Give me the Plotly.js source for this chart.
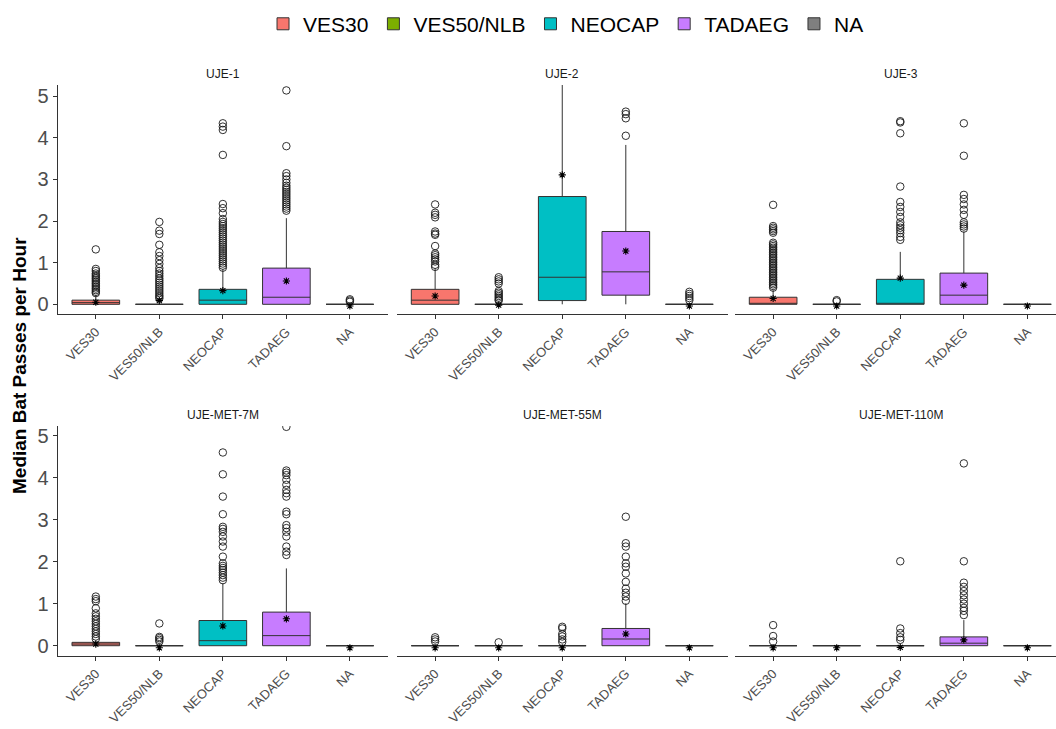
<!DOCTYPE html>
<html>
<head>
<meta charset="utf-8">
<script src="https://cdn.plot.ly/plotly-3.0.1.min.js"></script>
<style>html,body{margin:0;padding:0;background:#fff;}#chart{width:1056px;height:729px;}</style>
</head>
<body>
<div id="chart"></div>
<script>
// ---------- data ----------
const categories = ['VES30', 'VES50/NLB', 'NEOCAP', 'TADAEG', 'NA'];
const sites = ['UJE-1', 'UJE-2', 'UJE-3', 'UJE-MET-7M', 'UJE-MET-55M', 'UJE-MET-110M'];
const colors = ['#F8766D', '#7CAE00', '#00BFC4', '#C77CFF', '#7F7F7F'];

// per site: [VES30, VES50/NLB, NEOCAP, TADAEG, NA]
const q1Values = [
  [0, 0, 0, 0, 0],
  [0, 0, 0.09, 0.22, 0],
  [0, 0, 0, 0, 0],
  [0, 0, 0, 0, 0],
  [0, 0, 0, 0, 0],
  [0, 0, 0, 0, 0]
];
const medianValues = [
  [0.04, 0, 0.1, 0.17, 0],
  [0.1, 0, 0.65, 0.78, 0],
  [0.01, 0, 0, 0.22, 0],
  [0.04, 0, 0.12, 0.24, 0],
  [0, 0, 0, 0.16, 0],
  [0, 0, 0, 0.06, 0]
];
const q3Values = [
  [0.1, 0, 0.36, 0.87, 0],
  [0.36, 0, 2.59, 1.75, 0],
  [0.17, 0, 0.6, 0.75, 0],
  [0.08, 0, 0.6, 0.8, 0],
  [0, 0, 0, 0.41, 0],
  [0, 0, 0, 0.21, 0]
];
const lowerWhisker = [
  [0, 0, 0, 0, 0],
  [0, 0, 0, 0, 0],
  [0, 0, 0, 0, 0],
  [0, 0, 0, 0, 0],
  [0, 0, 0, 0, 0],
  [0, 0, 0, 0, 0]
];
const upperWhisker = [
  [0.22, 0, 0.85, 2.07, 0],
  [0.87, 0, 5.6, 3.83, 0],
  [0.34, 0, 1.26, 1.75, 0],
  [0.12, 0, 1.49, 1.84, 0],
  [0, 0, 0, 1.01, 0],
  [0, 0, 0, 0.61, 0]
];
const meanValues = [
  [0.05, 0.09, 0.33, 0.56, -0.04],
  [0.2, -0.02, 3.11, 1.28, -0.04],
  [0.14, -0.04, 0.63, 0.46, -0.04],
  [0.04, -0.05, 0.47, 0.64, -0.05],
  [-0.05, -0.05, -0.05, 0.28, -0.05],
  [-0.05, -0.05, -0.04, 0.14, -0.05]
];

const outliersUJE1 = [
  [1.32, 0.85, 0.8, 0.74, 0.7, 0.66, 0.62, 0.58, 0.54, 0.5, 0.46, 0.42, 0.38, 0.34, 0.3, 0.27],
  [1.98, 1.77, 1.69, 1.43, 1.25, 1.16, 1.06, 0.97, 0.87, 0.8, 0.74, 0.68, 0.62, 0.57, 0.52, 0.47, 0.42, 0.37, 0.32, 0.27, 0.22, 0.18, 0.14],
  [4.35, 4.27, 4.19, 3.59, 2.41, 2.31, 2.19, 2.05, 1.98, 1.93, 1.88, 1.83, 1.78, 1.73, 1.68, 1.63, 1.58, 1.53, 1.48, 1.43, 1.38, 1.33, 1.28, 1.23, 1.18, 1.13, 1.08, 1.03, 0.98, 0.93, 0.88],
  [5.14, 3.8, 3.15, 3.08, 3.0, 2.92, 2.85, 2.8, 2.75, 2.7, 2.65, 2.6, 2.55, 2.5, 2.45, 2.4, 2.35, 2.3, 2.25],
  [0.12, 0.09, 0.06]
];
const outliersUJE2 = [
  [2.4, 2.2, 2.15, 2.09, 1.75, 1.7, 1.67, 1.4, 1.22, 1.18, 1.13, 1.08, 1.03, 0.95, 0.9],
  [0.65, 0.6, 0.55, 0.5, 0.32, 0.28, 0.24, 0.2, 0.16, 0.12, 0.09],
  [],
  [4.63, 4.57, 4.47, 4.05],
  [0.3, 0.25, 0.2, 0.15, 0.1]
];
const outliersUJE3 = [
  [2.39, 1.88, 1.84, 1.8, 1.76, 1.72, 1.48, 1.44, 1.4, 1.36, 1.32, 1.28, 1.24, 1.2, 1.16, 1.12, 1.08, 1.04, 1.0, 0.96, 0.92, 0.88, 0.84, 0.8, 0.76, 0.72, 0.68, 0.64, 0.6, 0.56, 0.52, 0.48, 0.44, 0.4],
  [0.1, 0.07],
  [4.4, 4.37, 4.11, 2.83, 2.46, 2.34, 2.22, 2.1, 1.97, 1.9, 1.84, 1.78, 1.71, 1.62, 1.55],
  [4.35, 3.57, 2.63, 2.53, 2.4, 2.27, 2.15, 1.97, 1.92, 1.87, 1.82],
  []
];
const outliersMET7 = [
  [1.17, 1.11, 1.06, 0.89, 0.77, 0.7, 0.64, 0.58, 0.52, 0.46, 0.4, 0.34, 0.28, 0.22, 0.16],
  [0.53, 0.21, 0.18, 0.14, 0.1],
  [4.6, 4.08, 3.55, 3.13, 2.83, 2.78, 2.71, 2.6, 2.48, 2.36, 2.12, 1.96, 1.9, 1.85, 1.8, 1.74, 1.68, 1.62, 1.56],
  [5.21, 4.17, 4.12, 4.06, 3.95, 3.83, 3.71, 3.63, 3.55, 3.19, 3.13, 2.87, 2.8, 2.71, 2.6, 2.36, 2.24, 2.16],
  []
];
const outliersMET55 = [
  [0.2, 0.15, 0.1],
  [0.08],
  [0.45, 0.41, 0.28, 0.22, 0.15, 0.09],
  [3.07, 2.44, 2.36, 2.12, 1.96, 1.88, 1.72, 1.52, 1.36, 1.26, 1.17, 1.07],
  []
];
const outliersMET110 = [
  [0.49, 0.23, 0.1],
  [],
  [2.01, 0.41, 0.3, 0.2, 0.14],
  [4.34, 2.01, 1.5, 1.4, 1.3, 1.2, 1.1, 1.0, 0.9, 0.83, 0.73],
  []
];
const outlierSets = [outliersUJE1, outliersUJE2, outliersUJE3, outliersMET7, outliersMET55, outliersMET110];

const yTickVals = [0, 1, 2, 3, 4, 5];

// ---------- build ----------
const FONT = 'Liberation Sans, Arial, sans-serif';
const W = 1056, H = 729;
const xDomains = [[57.7 / W, 388 / W], [397 / W, 727.5 / W], [735 / W, 1]];
const xRanges = [[0.4, 5.6], [0.4, 5.6], [0.4, 5.45]];
const yDomains = [[1 - 314.3 / H, 1 - 85 / H], [1 - 656 / H, 1 - 426 / H]];
const yRanges = [[-0.24, 5.27], [-0.245, 5.23]];

const traces = [];
const layout = {
  width: W, height: H,
  margin: {l: 0, r: 0, t: 0, b: 0},
  paper_bgcolor: '#ffffff', plot_bgcolor: '#ffffff',
  font: {family: FONT, color: '#000000'},
  showlegend: true,
  boxmode: 'overlay',
  legend: {
    orientation: 'h', x: 0.536, xanchor: 'center', y: 0.995, yanchor: 'top',
    font: {size: 21, family: FONT, color: '#000000'},
    itemwidth: 30, tracegroupgap: 0, bgcolor: 'rgba(0,0,0,0)'
  },
  annotations: []
};

sites.forEach((site, s) => {
  const k = s + 1;
  const row = Math.floor(s / 3), col = s % 3;
  const xa = 'x' + (k === 1 ? '' : k), ya = 'y' + (k === 1 ? '' : k);
  const xName = 'xaxis' + (k === 1 ? '' : k), yName = 'yaxis' + (k === 1 ? '' : k);

  layout[xName] = {
    domain: xDomains[col], range: xRanges[col], anchor: ya,
    tickvals: [1, 2, 3, 4, 5], ticktext: categories, tickangle: -45,
    tickfont: {size: 13, color: '#4d4d4d', family: FONT},
    ticks: 'outside', ticklen: 4, tickcolor: '#333333', tickwidth: 1,
    showline: true, linecolor: '#333333', linewidth: 1,
    showgrid: false, zeroline: false, fixedrange: true
  };
  layout[yName] = {
    domain: yDomains[row], range: yRanges[row], anchor: xa,
    tickvals: yTickVals, ticktext: yTickVals.map(String),
    showticklabels: col === 0,
    tickfont: {size: 20, color: '#4d4d4d', family: FONT},
    ticks: col === 0 ? 'outside' : '', ticklen: 4, tickcolor: '#333333', tickwidth: 1,
    showline: col === 0, linecolor: '#333333', linewidth: 1,
    showgrid: false, zeroline: false, fixedrange: true
  };

  categories.forEach((cat, i) => {
    traces.push({
      type: 'box', xaxis: xa, yaxis: ya,
      x: [i + 1],
      q1: [q1Values[s][i]], median: [medianValues[s][i]], q3: [q3Values[s][i]],
      lowerfence: [lowerWhisker[s][i]], upperfence: [upperWhisker[s][i]],
      width: 0.75, whiskerwidth: 0, boxpoints: false,
      fillcolor: colors[i], line: {color: '#333333', width: 1},
      name: cat, legendgroup: cat, showlegend: s === 0,
      hoverinfo: 'skip'
    });
  });

  const ox = [], oy = [];
  outlierSets[s].forEach((vals, i) => vals.forEach(v => { ox.push(i + 1); oy.push(v); }));
  traces.push({
    type: 'scatter', mode: 'markers', xaxis: xa, yaxis: ya,
    x: ox, y: oy, showlegend: false, hoverinfo: 'skip',
    marker: {symbol: 'circle-open', size: 7.5, color: '#1a1a1a', line: {width: 0.9, color: '#1a1a1a'}}
  });

  traces.push({
    type: 'scatter', mode: 'markers', xaxis: xa, yaxis: ya,
    x: categories.map((c, i) => i + 1), y: meanValues[s], showlegend: false, hoverinfo: 'skip',
    marker: {symbol: 'asterisk-open', size: 6, color: '#000000', line: {width: 1.1, color: '#000000'}}
  });

  const dom = xDomains[col];
  const pxLeft = dom[0] * W, pxRight = (col === 2 ? 1066 : dom[1] * W);
  layout.annotations.push({
    text: site, xref: 'paper', yref: 'paper',
    x: ((pxLeft + pxRight) / 2) / W, y: row === 0 ? 1 - 74 / H : 1 - 415 / H,
    xanchor: 'center', yanchor: 'middle', showarrow: false,
    font: {size: 12, color: '#1a1a1a', family: FONT}
  });
});

layout.annotations.push({
  text: '<b>Median Bat Passes per Hour</b>', xref: 'paper', yref: 'paper',
  x: 19 / W, y: 1 - 366 / H, xanchor: 'center', yanchor: 'middle',
  textangle: -90, showarrow: false,
  font: {size: 19, color: '#000000', family: FONT}
});

Plotly.newPlot('chart', traces, layout, {staticPlot: true, displayModeBar: false});
</script>
</body>
</html>
